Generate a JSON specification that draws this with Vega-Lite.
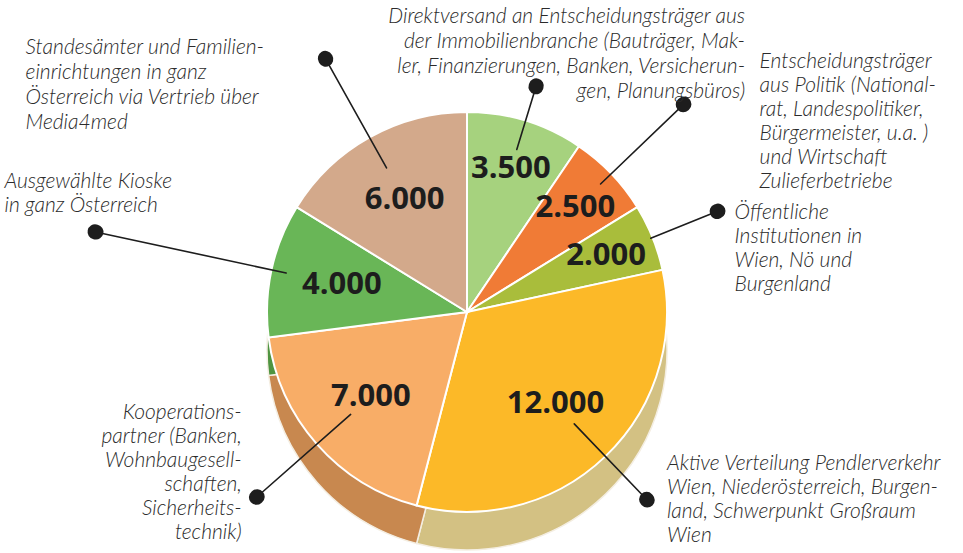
{
  "$schema": "https://vega.github.io/schema/vega-lite/v6.json",
  "width": 934,
  "height": 470,
  "autosize": {"type": "none"},
  "padding": {"left": 0, "top": 77, "right": 29, "bottom": 6},
  "background": "white",
  "config": {"view": {"stroke": null}},
  "data": {
    "values": [
      {"nr": 1, "gruppe": "Direktversand Immobilienbranche", "value": 3500, "zahl": "3.500", "label": ["Direktversand an Entscheidungsträger aus", "der Immobilienbranche (Bauträger, Mak-", "ler, Finanzierungen, Banken, Versicherun-", "gen, Planungsbüros)"]},
      {"nr": 2, "gruppe": "Politik und Wirtschaft", "value": 2500, "zahl": "2.500", "label": ["Entscheidungsträger", "aus Politik (National-", "rat, Landespolitiker,", "Bürgermeister, u.a. )", "und Wirtschaft", "Zulieferbetriebe"]},
      {"nr": 3, "gruppe": "Öffentliche Institutionen", "value": 2000, "zahl": "2.000", "label": ["Öffentliche", "Institutionen in", "Wien, Nö und", "Burgenland"]},
      {"nr": 4, "gruppe": "Pendlerverkehr", "value": 12000, "zahl": "12.000", "label": ["Aktive Verteilung Pendlerverkehr", "Wien, Niederösterreich, Burgen-", "land, Schwerpunkt Großraum", "Wien"]},
      {"nr": 5, "gruppe": "Kooperationspartner", "value": 7000, "zahl": "7.000", "label": ["Kooperations-", "partner (Banken,", "Wohnbaugesell-", "schaften,", "Sicherheits-", "technik)"]},
      {"nr": 6, "gruppe": "Kioske", "value": 4000, "zahl": "4.000", "label": ["Ausgewählte Kioske", "in ganz Österreich"]},
      {"nr": 7, "gruppe": "Standesämter", "value": 6000, "zahl": "6.000", "label": ["Standesämter und Familien-", "einrichtungen in ganz", "Österreich via Vertrieb über", "Media4med"]}
    ]
  },
  "encoding": {
    "theta": {"field": "value", "type": "quantitative", "stack": true},
    "order": {"field": "nr", "type": "quantitative"}
  },
  "layer": [
    {
      "mark": {"type": "arc", "radius": 200, "yOffset": 38, "stroke": "#f4eee2", "strokeWidth": 1.5},
      "encoding": {
        "fill": {"field": "gruppe", "type": "nominal", "legend": null,
          "scale": {"domain": ["Direktversand Immobilienbranche", "Politik und Wirtschaft", "Öffentliche Institutionen", "Pendlerverkehr", "Kooperationspartner", "Kioske", "Standesämter"],
                    "range": ["#8db66a", "#c9652c", "#8c9e33", "#d3c183", "#c8884f", "#4f9440", "#b48e72"]}}
      }
    },
    {
      "mark": {"type": "arc", "radius": 200, "stroke": "white", "strokeWidth": 2},
      "encoding": {
        "color": {"field": "gruppe", "type": "nominal", "legend": null,
          "scale": {"domain": ["Direktversand Immobilienbranche", "Politik und Wirtschaft", "Öffentliche Institutionen", "Pendlerverkehr", "Kooperationspartner", "Kioske", "Standesämter"],
                    "range": ["#a6d27e", "#f07b36", "#a9bd3b", "#fcb928", "#f8ad67", "#69b657", "#d3a98b"]}}
      }
    },
    {
      "mark": {"type": "text", "radius": 128, "font": "Open Sans", "fontSize": 31, "fontWeight": "bold", "color": "#1d1d1d", "baseline": "middle"},
      "encoding": {"text": {"condition": {"test": "datum.value > 3500", "field": "zahl", "type": "nominal"}, "value": ""}}
    },
    {
      "mark": {"type": "text", "radius": 150, "font": "Open Sans", "fontSize": 31, "fontWeight": "bold", "color": "#1d1d1d", "baseline": "middle"},
      "encoding": {"text": {"condition": {"test": "datum.value <= 3500", "field": "zahl", "type": "nominal"}, "value": ""}}
    },
    {"mark": {"type": "arc", "radius": 236, "radius2": 170, "padAngle": 3.1416, "filled": false, "stroke": "#1d1d1d", "strokeWidth": 1.6, "strokeJoin": "round"},
     "encoding": {"strokeOpacity": {"condition": {"test": "datum.nr == 1", "value": 1}, "value": 0}}},
    {"mark": {"type": "arc", "radius": 300, "radius2": 185, "padAngle": 3.1416, "filled": false, "stroke": "#1d1d1d", "strokeWidth": 1.6, "strokeJoin": "round"},
     "encoding": {"strokeOpacity": {"condition": {"test": "datum.nr == 2", "value": 1}, "value": 0}}},
    {"mark": {"type": "arc", "radius": 270, "radius2": 198, "padAngle": 3.1416, "filled": false, "stroke": "#1d1d1d", "strokeWidth": 1.6, "strokeJoin": "round"},
     "encoding": {"strokeOpacity": {"condition": {"test": "datum.nr == 3", "value": 1}, "value": 0}}},
    {"mark": {"type": "arc", "radius": 260, "radius2": 155, "padAngle": 3.1416, "filled": false, "stroke": "#1d1d1d", "strokeWidth": 1.6, "strokeJoin": "round"},
     "encoding": {"strokeOpacity": {"condition": {"test": "datum.nr == 4", "value": 1}, "value": 0}}},
    {"mark": {"type": "arc", "radius": 280, "radius2": 155, "padAngle": 3.1416, "filled": false, "stroke": "#1d1d1d", "strokeWidth": 1.6, "strokeJoin": "round"},
     "encoding": {"strokeOpacity": {"condition": {"test": "datum.nr == 5", "value": 1}, "value": 0}}},
    {"mark": {"type": "arc", "radius": 380, "radius2": 185, "padAngle": 3.1416, "filled": false, "stroke": "#1d1d1d", "strokeWidth": 1.6, "strokeJoin": "round"},
     "encoding": {"strokeOpacity": {"condition": {"test": "datum.nr == 6", "value": 1}, "value": 0}}},
    {"mark": {"type": "arc", "radius": 290, "radius2": 165, "padAngle": 3.1416, "filled": false, "stroke": "#1d1d1d", "strokeWidth": 1.6, "strokeJoin": "round"},
     "encoding": {"strokeOpacity": {"condition": {"test": "datum.nr == 7", "value": 1}, "value": 0}}},
    {"mark": {"type": "arc", "radius": 236.5, "radius2": 235.5, "padAngle": 3.1416, "filled": false, "stroke": "#1d1d1d", "strokeWidth": 15, "strokeJoin": "round", "strokeCap": "round"},
     "encoding": {"strokeOpacity": {"condition": {"test": "datum.nr == 1", "value": 1}, "value": 0}}},
    {"mark": {"type": "arc", "radius": 300.5, "radius2": 299.5, "padAngle": 3.1416, "filled": false, "stroke": "#1d1d1d", "strokeWidth": 15, "strokeJoin": "round", "strokeCap": "round"},
     "encoding": {"strokeOpacity": {"condition": {"test": "datum.nr == 2", "value": 1}, "value": 0}}},
    {"mark": {"type": "arc", "radius": 270.5, "radius2": 269.5, "padAngle": 3.1416, "filled": false, "stroke": "#1d1d1d", "strokeWidth": 15, "strokeJoin": "round", "strokeCap": "round"},
     "encoding": {"strokeOpacity": {"condition": {"test": "datum.nr == 3", "value": 1}, "value": 0}}},
    {"mark": {"type": "arc", "radius": 260.5, "radius2": 259.5, "padAngle": 3.1416, "filled": false, "stroke": "#1d1d1d", "strokeWidth": 15, "strokeJoin": "round", "strokeCap": "round"},
     "encoding": {"strokeOpacity": {"condition": {"test": "datum.nr == 4", "value": 1}, "value": 0}}},
    {"mark": {"type": "arc", "radius": 280.5, "radius2": 279.5, "padAngle": 3.1416, "filled": false, "stroke": "#1d1d1d", "strokeWidth": 15, "strokeJoin": "round", "strokeCap": "round"},
     "encoding": {"strokeOpacity": {"condition": {"test": "datum.nr == 5", "value": 1}, "value": 0}}},
    {"mark": {"type": "arc", "radius": 380.5, "radius2": 379.5, "padAngle": 3.1416, "filled": false, "stroke": "#1d1d1d", "strokeWidth": 15, "strokeJoin": "round", "strokeCap": "round"},
     "encoding": {"strokeOpacity": {"condition": {"test": "datum.nr == 6", "value": 1}, "value": 0}}},
    {"mark": {"type": "arc", "radius": 290.5, "radius2": 289.5, "padAngle": 3.1416, "filled": false, "stroke": "#1d1d1d", "strokeWidth": 15, "strokeJoin": "round", "strokeCap": "round"},
     "encoding": {"strokeOpacity": {"condition": {"test": "datum.nr == 7", "value": 1}, "value": 0}}},
    {"mark": {"type": "text", "radius": 236, "align": "right", "baseline": "middle", "dx": 209, "dy": -69, "font": "Lato", "fontSize": 21, "fontStyle": "italic", "fontWeight": 300, "lineHeight": 25, "color": "#2b2b2b"},
     "encoding": {"text": {"condition": {"test": "datum.nr == 1", "field": "label", "type": "nominal"}, "value": ""}}},
    {"mark": {"type": "text", "radius": 300, "align": "left", "baseline": "middle", "dx": 76, "dy": -42, "font": "Lato", "fontSize": 21, "fontStyle": "italic", "fontWeight": 300, "lineHeight": 24, "color": "#2b2b2b"},
     "encoding": {"text": {"condition": {"test": "datum.nr == 2", "field": "label", "type": "nominal"}, "value": ""}}},
    {"mark": {"type": "text", "radius": 270, "align": "left", "baseline": "middle", "dx": 17, "dy": 2, "font": "Lato", "fontSize": 21, "fontStyle": "italic", "fontWeight": 300, "lineHeight": 24, "color": "#2b2b2b"},
     "encoding": {"text": {"condition": {"test": "datum.nr == 3", "field": "label", "type": "nominal"}, "value": ""}}},
    {"mark": {"type": "text", "radius": 260, "align": "left", "baseline": "middle", "dx": 20, "dy": -36, "font": "Lato", "fontSize": 21, "fontStyle": "italic", "fontWeight": 300, "lineHeight": 24, "color": "#2b2b2b"},
     "encoding": {"text": {"condition": {"test": "datum.nr == 4", "field": "label", "type": "nominal"}, "value": ""}}},
    {"mark": {"type": "text", "radius": 280, "align": "right", "baseline": "middle", "dx": -15, "dy": -84, "font": "Lato", "fontSize": 21, "fontStyle": "italic", "fontWeight": 300, "lineHeight": 24, "color": "#2b2b2b"},
     "encoding": {"text": {"condition": {"test": "datum.nr == 5", "field": "label", "type": "nominal"}, "value": ""}}},
    {"mark": {"type": "text", "radius": 380, "align": "left", "baseline": "middle", "dx": -91, "dy": -50, "font": "Lato", "fontSize": 21, "fontStyle": "italic", "fontWeight": 300, "lineHeight": 24, "color": "#2b2b2b"},
     "encoding": {"text": {"condition": {"test": "datum.nr == 6", "field": "label", "type": "nominal"}, "value": ""}}},
    {"mark": {"type": "text", "radius": 290, "align": "left", "baseline": "middle", "dx": -300, "dy": -11, "font": "Lato", "fontSize": 21, "fontStyle": "italic", "fontWeight": 300, "lineHeight": 25, "color": "#2b2b2b"},
     "encoding": {"text": {"condition": {"test": "datum.nr == 7", "field": "label", "type": "nominal"}, "value": ""}}}
  ]
}
